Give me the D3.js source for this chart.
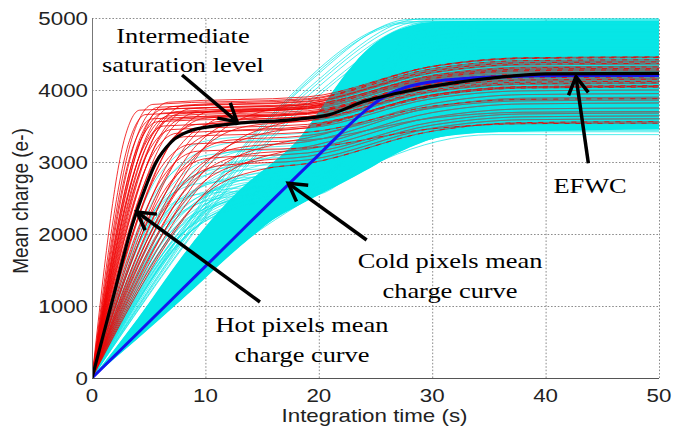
<!DOCTYPE html>
<html><head><meta charset="utf-8">
<script src="https://cdn.jsdelivr.net/npm/d3@7"></script>
<style>body{margin:0;background:#fff}</style>
</head><body><svg id="c" width="681" height="430"></svg>
<script>
// ---------- data ----------
const xTicks=[0,10,20,30,40,50];
const yTicks=[0,1000,2000,3000,4000,5000];
const xLabel="Integration time (s)";
const yLabel="Mean charge (e-)";

// mean curves [time s, charge e-]
const blueMean=[[0,0],[10,1550],[20,3100],[24,3700],[25.5,3880],[27,4000],[30,4115],[32,4150],[36,4185],[42,4200],[50,4200]];
const blackMean=[[0,0],[1.8,1080],[3.6,2150],[4.3,2470],[5.6,2980],[7,3280],[8.8,3440],[10.6,3495],[12.8,3537],[18,3593],[21,3660],[23.9,3838],[26.9,3954],[29.8,4046],[31.6,4093],[36,4180],[40,4225],[50,4232]];

// dense cold-pixel band: time, lower edge, upper edge
const coreT   =[0, 4,   8,    10,   12,   14,   16,   18,   20,   22,   24,   26,   28,   30,   33,   38,   44,   50];
const coreLow =[0, 540, 1100, 1390, 1680, 1950, 2200, 2380, 2540, 2700, 2870, 3050, 3200, 3320, 3390, 3425, 3440, 3450];
const coreHigh=[0, 820, 1700, 2100, 2450, 2750, 3000, 3280, 3700, 4150, 4520, 4760, 4890, 4945, 4960, 4962, 4965, 4965];

// individual cold pixels at the band edges: slope (e-/s), knee charge, saturation charge
const coldSlopes=[230,205,210,200,215,198,208,225,138,141,136,143,146,139];
const coldKnees =[3700,3950,4050,3900,4100,3850,4000,3800,2300,2450,2200,2500,2600,2350];
const coldLevels=[4950,4950,4990,4900,4980,4870,4960,4930,3420,3470,3380,3500,3530,3440];

// steeper cold pixels (two-stage): slope, intermediate level, final level
const coldSteepSlopes=[480,450,420,400,380,360,340,330,320,300,290,280,270,260,250,240,235,230,225,220,
                       430,410,390,370,350,330,310,300,290,280,270,260,250,245,240,235,230,225,220,215];
const coldSteepMids  =[3300,3100,3250,2900,3150,3000,3200,2800,3050,2950,2700,3100,2850,2600,3000,2750,2900,2650,2800,2550,
                       2700,2550,2850,2600,2750,2500,2700,2600,2800,2500,2650,2550,2750,2450,2650,2550,2700,2500,2600,2650];
const coldSteepFinals=[4700,4500,4850,4300,4900,4600,4400,4750,4950,4200,4650,4800,4100,4550,4900,4350,4700,4000,4600,4850,
                       4400,3900,4650,4200,4500,3800,4300,4050,4750,3700,4450,4100,4600,3650,4350,3950,4700,3750,4250,4800];

// hot pixels (two-stage): slope, intermediate level, final level
const hotSlopes=[1150,1000,920,880,840,800,780,760,740,720,700,690,670,650,640,620,600,590,570,560,540,520,500,480,470,460,440,420,400,390,380,360,350,340,330,320,310,300,290,280,270,260,250,240];
const hotMids  =[3720,3660,3800,3600,3760,3560,3730,3680,3830,3500,3640,3770,3590,3700,3450,3670,3790,3400,3620,3740,3350,3690,3520,3250,3610,3700,3150,3560,3420,3050,3680,3300,3600,2950,3500,3200,3730,3100,3400,3000,3550,3250,2900,3150];
const hotFinals=[4320,4280,4460,4210,4390,4140,4300,4250,4450,4090,4230,4400,4180,4330,4050,4270,4420,4000,4220,4360,3880,4300,4120,3700,4200,4290,3540,4160,4060,3680,4280,3860,4210,3600,4100,3900,4370,3750,4040,3640,4150,3950,3560,3820];

// annotations: text lines, anchor (t, charge), arrow tail and tip (t, charge)
const notes=[
  {lines:["Intermediate","saturation level"], at:[8.02,4653], dy:29, tail:[7.94,4208], tip:[12.79,3560]},
  {lines:["Hot pixels mean","charge curve"], at:[18.52,639], dy:30, tail:[14.81,1056], tip:[3.97,2306]},
  {lines:["Cold pixels mean","charge curve"], at:[31.57,1528], dy:30, tail:[24.22,1917], tip:[17.31,2704]},
  {lines:["EFWC"], at:[43.92,2569], dy:0, tail:[43.77,2982], tip:[42.68,4185]}
];

// ---------- drawing ----------
const CYAN="#08e6e6", RED="#f00000", GREY="#6c7474";
const svg=d3.select('#c');
const x=d3.scaleLinear().domain([0,50]).range([92,659]);
const y=d3.scaleLinear().domain([0,5000]).range([378,18]);
const line=d3.line().x(d=>x(d[0])).y(d=>y(d[1])).curve(d3.curveMonotoneX);
const area=d3.area().x(i=>x(coreT[i])).y0(i=>y(coreLow[i])).y1(i=>y(coreHigh[i])).curve(d3.curveMonotoneX);
const coreIdx=coreT.map((d,i)=>i);

function twoStageHot(s,mid,fin){const tk=mid/s,t2=1.3*tk,t3=Math.max(19,t2+2.5);
  return [[0,0],[0.9*tk,0.9*mid],[t2,mid],[t3,mid+0.12*(fin-mid)],[30,fin-0.2*(fin-mid)],[38,fin-0.02*(fin-mid)],[50,fin]];}
function twoStageCold(s,mid,fin){const tk=mid/s,t2=1.5*tk,t3=Math.max(20,t2+2);
  return [[0,0],[0.85*tk,0.85*mid],[t2,mid],[t3,mid*1.04],[29,fin-0.04*(fin-mid)],[34,fin],[50,fin]];}
function singleStage(s,knee,L){const t1=knee/s,t2=Math.min(t1+2.2*(L-knee)/s,45);
  return [[0,0],[t1,knee],[t2,L],[50,L]];}

const defs=svg.append('defs');
defs.append('clipPath').attr('id','plotClip').append('rect')
  .attr('x',x(0)).attr('y',y(5000)).attr('width',x(50)-x(0)).attr('height',y(0)-y(5000));
defs.append('clipPath').attr('id','coreClip').append('path').attr('d',area(coreIdx));

// grid
const grid=svg.append('g').attr('stroke','#8c8c8c').attr('stroke-width',1).attr('stroke-dasharray','1.6,1.8');
grid.selectAll('.v').data(xTicks.slice(1)).join('line')
  .attr('x1',d=>x(d)+0.5).attr('x2',d=>x(d)+0.5).attr('y1',y(0)).attr('y2',y(5000));
grid.selectAll('.h').data(yTicks.slice(1)).join('line')
  .attr('x1',x(0)).attr('x2',x(50)).attr('y1',d=>Math.round(y(d))+0.5).attr('y2',d=>Math.round(y(d))+0.5);

const plot=svg.append('g').attr('clip-path','url(#plotClip)');
// cold pixels
plot.append('path').attr('d',area(coreIdx)).attr('fill',CYAN);
const coldCurves=coldSlopes.map((s,i)=>singleStage(s,coldKnees[i],coldLevels[i]));
plot.append('g').selectAll('path').data(coldCurves).join('path').attr('d',line)
  .attr('fill','none').attr('stroke',CYAN).attr('stroke-width',0.9).attr('opacity',0.8);
const coldSteep=coldSteepSlopes.map((s,i)=>twoStageCold(s,coldSteepMids[i],coldSteepFinals[i]));
plot.append('g').selectAll('path').data(coldSteep).join('path').attr('d',line)
  .attr('fill','none').attr('stroke',CYAN).attr('stroke-width',0.9).attr('opacity',0.7);
// hot pixels
const hotCurves=hotSlopes.map((s,i)=>twoStageHot(s,hotMids[i],hotFinals[i]));
plot.append('g').selectAll('path').data(hotCurves).join('path').attr('d',line)
  .attr('fill','none').attr('stroke',RED).attr('stroke-width',0.8);
// hot pixel lines seen through the dense cold band
const inCore=plot.append('g').attr('clip-path','url(#coreClip)');
inCore.append('path').attr('d',area(coreIdx)).attr('fill',CYAN).attr('opacity',0.55);
inCore.append('g').selectAll('path').data(hotCurves).join('path').attr('d',line)
  .attr('fill','none').attr('stroke',GREY).attr('stroke-width',0.9);
inCore.append('g').selectAll('path').data(hotCurves.filter((d,i)=>i%2===0)).join('path').attr('d',line)
  .attr('fill','none').attr('stroke',RED).attr('stroke-width',1).attr('stroke-dasharray','5,6').attr('opacity',0.85);
// means
plot.append('path').attr('d',line(blueMean)).attr('fill','none').attr('stroke','#1414f0').attr('stroke-width',3);
plot.append('path').attr('d',line(blackMean)).attr('fill','none').attr('stroke','#000').attr('stroke-width',3.2);

// axes
svg.append('line').attr('x1',x(0)+0.5).attr('x2',x(0)+0.5).attr('y1',y(0)).attr('y2',y(5000)).attr('stroke','#777');
svg.append('line').attr('x1',x(0)).attr('x2',x(50)).attr('y1',y(0)+0.5).attr('y2',y(0)+0.5).attr('stroke','#555');

const SANS="'Liberation Sans', Arial, sans-serif", SERIF="'Liberation Serif','Times New Roman',serif";
svg.append('g').selectAll('text').data(yTicks).join('text')
  .attr('transform',d=>`translate(88,${y(d)+7}) scale(1.2,1)`).attr('text-anchor','end')
  .attr('font-family',SANS).attr('font-size',18.6).attr('fill','#222').text(d=>d);
svg.append('g').selectAll('text').data(xTicks).join('text')
  .attr('transform',d=>`translate(${x(d)},${y(0)+23.5}) scale(1.2,1)`).attr('text-anchor','middle')
  .attr('font-family',SANS).attr('font-size',18.6).attr('fill','#222').text(d=>d);
svg.append('text').attr('transform',`translate(${(x(0)+x(50))/2-1},422) scale(1.2,1)`).attr('text-anchor','middle')
  .attr('font-family',SANS).attr('font-size',18.6).attr('fill','#222').text(xLabel);
svg.append('text').attr('transform',`translate(28,201) rotate(-90) scale(1,1.2)`).attr('text-anchor','middle')
  .attr('font-family',SANS).attr('font-size',19).attr('fill','#222').text(yLabel);

// annotations
const ann=svg.append('g');
notes.forEach(n=>{
  n.lines.forEach((t,k)=>{
    ann.append('text').attr('transform',`translate(${x(n.at[0])},${y(n.at[1])+k*n.dy}) scale(1.2,1)`)
      .attr('text-anchor','middle').attr('font-family',SERIF).attr('font-size',22).attr('fill','#000').text(t);
  });
  const tx=x(n.tip[0]),ty=y(n.tip[1]),ax=x(n.tail[0]),ay=y(n.tail[1]);
  const ang=Math.atan2(ay-ty,ax-tx),L=20,h=Math.PI/6;
  ann.append('line').attr('x1',ax).attr('y1',ay).attr('x2',tx).attr('y2',ty).attr('stroke','#000').attr('stroke-width',3.5);
  ann.append('path').attr('d',`M${tx+L*Math.cos(ang-h)},${ty+L*Math.sin(ang-h)}L${tx},${ty}L${tx+L*Math.cos(ang+h)},${ty+L*Math.sin(ang+h)}`)
    .attr('fill','none').attr('stroke','#000').attr('stroke-width',3.5).attr('stroke-linejoin','miter');
});
</script></body></html>
